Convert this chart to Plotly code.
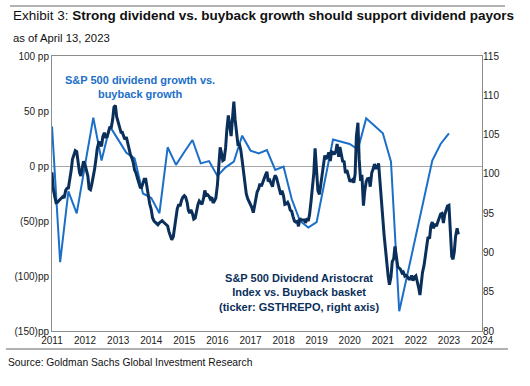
import pandas as pd
import plotly.graph_objects as go

# ---------------- data ----------------
# S&P 500 dividend growth vs. buyback growth (pp, left axis), quarterly
blue_dates = pd.date_range("2011-01-01", periods=49, freq="QS")
div_vs_buyback_pp = [
    36, -87.5, -23, -43, 1, 44, 5, 36, 24, 12,
    7, -25, -29, -43, 17, 1, 12.7, 23.6, 2.4, 4.5,
    -9, -1.2, 4, 27.6, 14, 11.5, 14.5, -3.6, -0.6, -30,
    -50, -56, -51, -13, 24, 22, 20, 15, 43.3, 36.5,
    29.7, 4, -132, -98, -64, -30, 5, 20, 29.7,
]

# S&P 500 Dividend Aristocrat Index vs. Buyback basket (right axis), semi-monthly
dark_dates = pd.date_range("2011-01-01", periods=296, freq="SMS")
aristocrat_vs_buyback = [
    100.2, 98.07, 97.05, 96.33, 96.37, 96.58, 96.75, 96.92, 97.09, 96.92,
    97.9, 98.15, 98.2, 99.05, 100.45, 101.85, 102.52, 102.95, 102.82, 101.55,
    100.15, 99.72, 100.9, 101.59, 101.17, 100.61, 99.72, 98.11, 97.98, 98.66,
    99.64, 100.57, 101.93, 103.25, 104.01, 103.97, 103.5, 104.73, 105.24, 104.69,
    104.73, 105.41, 105.96, 105.79, 106.94, 108.5, 108.7, 107.28, 106.55, 105.66,
    105.28, 105.28, 104.94, 104.39, 104.69, 103.97, 103.12, 102.48, 102.01, 101.5,
    100.49, 100.15, 99.47, 98.79, 98.28, 98.24, 98.79, 99.3, 99.3, 98.24,
    96.84, 96.16, 95.44, 94.42, 94.0, 93.83, 93.66, 93.53, 93.78, 93.91,
    94.04, 93.87, 93.7, 93.53, 93.36, 92.64, 91.87, 91.62, 92.0, 93.36,
    94.5, 95.56, 96.12, 95.9, 96.63, 97.01, 97.22, 97.05, 96.37, 95.35,
    95.01, 95.44, 94.93, 94.25, 94.38, 95.4, 96.12, 96.54, 96.24, 96.12,
    96.88, 97.9, 97.26, 97.35, 97.14, 96.8, 97.01, 96.29, 96.58, 96.92,
    98.54, 101.25, 103.37, 102.69, 101.68, 101.8, 103.33, 105.66, 107.45, 106.21,
    104.81, 106.94, 109.2, 106.89, 105.15, 103.75, 103.75, 103.08, 101.68, 100.23,
    98.87, 97.47, 96.84, 96.5, 96.12, 95.74, 95.06, 95.9, 96.97, 97.69,
    98.11, 98.75, 98.41, 98.96, 99.43, 99.85, 100.27, 99.05, 99.21, 98.7,
    98.37, 99.3, 99.81, 99.51, 98.75, 97.81, 97.35, 97.86, 97.18, 96.12,
    96.2, 96.37, 96.03, 95.4, 95.23, 94.59, 94.0, 93.87, 93.95, 93.32,
    94.34, 94.12, 94.12, 94.12, 93.78, 94.34, 94.0, 94.84, 96.58, 98.41,
    100.1, 103.25, 100.57, 97.86, 97.39, 98.66, 99.81, 101.55, 102.35, 101.89,
    102.18, 102.74, 101.63, 102.82, 102.74, 102.48, 102.86, 103.8, 102.18, 103.41,
    102.14, 101.63, 101.55, 100.1, 100.49, 99.81, 99.13, 99.09, 99.26, 98.87,
    99.98, 104.77, 106.5, 101.84, 99.09, 99.89, 95.95, 97.77, 99.0, 99.38,
    99.43, 98.37, 100.15, 100.57, 101.25, 100.74, 100.74, 101.34, 98.75, 97.01,
    94.63, 92.21, 90.22, 87.97, 86.95, 85.89, 86.91, 88.82, 89.2, 90.77,
    89.54, 88.18, 88.01, 87.84, 87.38, 87.5, 86.99, 87.08, 86.87, 86.61,
    86.61, 87.08, 86.4, 86.87, 87.04, 86.48, 85.47, 84.58, 86.48, 87.46,
    88.35, 89.67, 91.24, 91.96, 91.75, 93.36, 93.87, 93.06, 93.66, 93.32,
    93.91, 94.38, 94.89, 94.97, 93.74, 94.8, 95.57, 95.9, 95.99, 93.49,
    89.46, 89.12, 90.09, 92.0, 93.06, 92.3,
]

left_tick_vals = [100, 50, 0, -50, -100, -150]
left_tick_text = ["100 pp", "50 pp", "0 pp", "(50)pp", "(100)pp", "(150)pp"]
right_tick_vals = [80, 85, 90, 95, 100, 105, 110, 115]
year_ticks = [f"{y}-01-01" for y in range(2011, 2025)]
year_labels = [str(y) for y in range(2011, 2025)]

title_text = "Exhibit 3: <b>Strong dividend vs. buyback growth should support dividend payors</b>"
subtitle_text = "as of April 13, 2023"
source_text = "Source: Goldman Sachs Global Investment Research"
blue_label = "S&P 500 dividend growth vs.<br>buyback growth"
dark_label = "S&P 500 Dividend Aristocrat<br>Index vs. Buyback basket<br>(ticker: GSTHREPO, right axis)"

BLUE = "#1B6FC8"
NAVY = "#0B2F5B"
GRAY = "#8C8C8C"
FONT = "Liberation Sans, Arial, sans-serif"


def bold_lines(s):
    return "<b>" + s.replace("<br>", "</b><br><b>") + "</b>"


fig = go.Figure()
fig.add_trace(go.Scatter(
    x=blue_dates, y=div_vs_buyback_pp, mode="lines",
    line=dict(color=BLUE, width=2), yaxis="y", hoverinfo="skip",
))
fig.add_trace(go.Scatter(
    x=dark_dates, y=aristocrat_vs_buyback, mode="lines",
    line=dict(color=NAVY, width=3), yaxis="y2", hoverinfo="skip",
))

fig.update_layout(
    width=530, height=386,
    margin=dict(l=52, r=48, t=56, b=55),
    paper_bgcolor="white", plot_bgcolor="white",
    showlegend=False,
    font=dict(family=FONT, size=10, color="#222222"),
    xaxis=dict(
        type="date", range=["2011-01-01", "2024-01-01"],
        tickvals=year_ticks, ticktext=year_labels,
        showgrid=False, zeroline=False,
        showline=True, linecolor=GRAY, linewidth=1, mirror=True,
        ticks="", tickfont=dict(size=10, color="#222222"),
    ),
    yaxis=dict(
        range=[-150, 100], tickvals=left_tick_vals, ticktext=left_tick_text,
        showgrid=False, zeroline=True, zerolinecolor="#A6A6A6", zerolinewidth=1,
        showline=True, linecolor=GRAY, linewidth=1, mirror=True,
        ticks="", tickfont=dict(size=10, color="#222222"),
    ),
    yaxis2=dict(
        range=[80, 115], tickvals=right_tick_vals,
        overlaying="y", side="right",
        showgrid=False, zeroline=False, showline=False,
        ticks="", tickfont=dict(size=10, color="#222222"),
    ),
)

# header / footer rules
fig.add_shape(type="line", xref="paper", yref="paper",
              x0=-42 / 430, x1=453 / 430, y0=(331 - 6) / 275, y1=(331 - 6) / 275,
              line=dict(color="#999999", width=1.5))
fig.add_shape(type="line", xref="paper", yref="paper",
              x0=-46 / 430, x1=456 / 430, y0=(331 - 349) / 275, y1=(331 - 349) / 275,
              line=dict(color="#999999", width=1.5))

fig.add_annotation(xref="paper", yref="paper", x=-41 / 430, y=(331 - 16) / 275,
                   text=title_text, showarrow=False, xanchor="left", yanchor="middle",
                   font=dict(size=13.5, color="#111111", family=FONT))
fig.add_annotation(xref="paper", yref="paper", x=-41 / 430, y=(331 - 38) / 275,
                   text=subtitle_text, showarrow=False, xanchor="left", yanchor="middle",
                   font=dict(size=11.3, color="#111111", family=FONT))
fig.add_annotation(xref="paper", yref="paper", x=-46 / 430, y=(331 - 362) / 275,
                   text=source_text, showarrow=False, xanchor="left", yanchor="middle",
                   font=dict(size=10.3, color="#111111", family=FONT))

fig.add_annotation(xref="paper", yref="paper", x=(140 - 52) / 430, y=(331 - 87) / 275,
                   text=bold_lines(blue_label), showarrow=False, xanchor="center",
                   yanchor="middle", align="center",
                   font=dict(size=11, color=BLUE, family=FONT))
fig.add_annotation(xref="paper", yref="paper", x=(299 - 52) / 430, y=(331 - 292) / 275,
                   text=bold_lines(dark_label), showarrow=False, xanchor="center",
                   yanchor="middle", align="center",
                   font=dict(size=11, color=NAVY, family=FONT))

fig.write_html("out.html", config={"displayModeBar": False},
               post_script="document.body.style.margin='0px';")
